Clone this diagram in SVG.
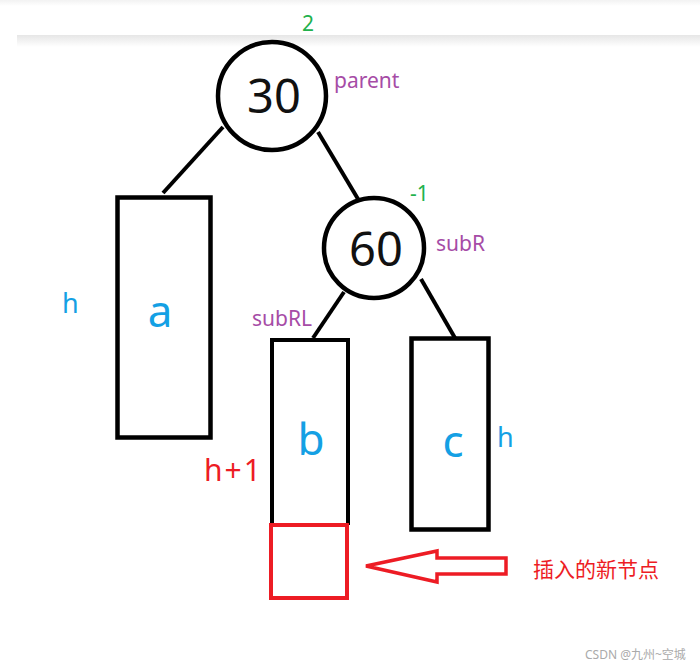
<svg xmlns="http://www.w3.org/2000/svg" width="700" height="667" viewBox="0 0 700 667">
<defs>
<linearGradient id="sh" x1="0" y1="0" x2="0" y2="1">
<stop offset="0" stop-color="#e6e6e6"/>
<stop offset="1" stop-color="#ffffff"/>
</linearGradient>
<linearGradient id="top" x1="0" y1="0" x2="0" y2="1">
<stop offset="0" stop-color="#f2f2f2"/>
<stop offset="1" stop-color="#ffffff"/>
</linearGradient>
</defs>
<style>
.node{fill:#fff;stroke:#000;stroke-width:4.5}
.edge{stroke:#000;stroke-width:4;fill:none}
.big{font-family:"Noto Sans","Open Sans",sans-serif;font-size:47px;fill:#111;text-anchor:middle}
.let{font-family:"Noto Sans","Open Sans",sans-serif;font-size:44px;fill:#14a0e4;text-anchor:middle}
.h{font-family:"Noto Sans","Open Sans",sans-serif;font-size:27px;fill:#14a0e4}
.lbl{font-family:"Noto Sans","Open Sans",sans-serif;font-size:21px;fill:#a64ca6}
.bf{font-family:"Noto Sans","Open Sans",sans-serif;font-size:21px;fill:#22b14c}
.red{font-family:"Noto Sans","Noto Sans CJK SC",sans-serif;fill:#ed1c24}
</style>
<rect x="0" y="0" width="700" height="667" fill="#fff"/>
<rect x="0" y="0" width="700" height="6" fill="url(#top)"/>
<rect x="17" y="35" width="683" height="12" fill="url(#sh)"/>

<g id="connectors">
<line class="edge" x1="223" y1="127" x2="163" y2="193"/>
<line class="edge" x1="318" y1="132" x2="358" y2="199"/>
<line class="edge" x1="344" y1="292" x2="313" y2="338"/>
<line class="edge" x1="421" y1="279" x2="455" y2="338"/>
</g>

<g id="n30">
<circle class="node" cx="272" cy="96" r="54"/>
<text class="big" x="274" y="113">30</text>
<text class="bf" x="308" y="31" text-anchor="middle">2</text>
<text class="lbl" x="334" y="88">parent</text>
</g>

<g id="n60">
<circle class="node" cx="374" cy="248" r="50"/>
<text class="big" x="376" y="266">60</text>
<text class="bf" x="410" y="201">-1</text>
<text class="lbl" x="436" y="251">subR</text>
</g>

<g id="na">
<rect class="node" x="117.5" y="197.5" width="93" height="240"/>
<text class="let" x="160" y="327">a</text>
<text class="h" x="62" y="313">h</text>
</g>

<g id="nb">
<path class="edge" d="M272 525 V340 H348 V525" stroke-width="4.5"/>
<text class="let" x="311" y="455">b</text>
<text class="lbl" x="252" y="326">subRL</text>
<text class="red" x="204" y="481" font-size="30" letter-spacing="2">h+1</text>
</g>

<g id="nc">
<rect class="node" x="411.5" y="338.5" width="77" height="191"/>
<text class="let" x="453" y="457">c</text>
<text class="h" x="497" y="447">h</text>
</g>

<g id="new">
<rect x="271" y="525" width="76" height="73" fill="none" stroke="#ed1c24" stroke-width="4"/>
<polygon points="366,566 437,551 437,558 506,558 506,574 437,574 437,582" fill="#fff" stroke="#ed1c24" stroke-width="3.5" stroke-linejoin="miter"/>
<text class="red" x="533" y="577" font-size="21">插入的新节点</text>
</g>

<text x="585" y="659" font-family="'Noto Sans','Noto Sans CJK SC',sans-serif" font-size="12" fill="#aaa">CSDN @九州~空城</text>
</svg>
